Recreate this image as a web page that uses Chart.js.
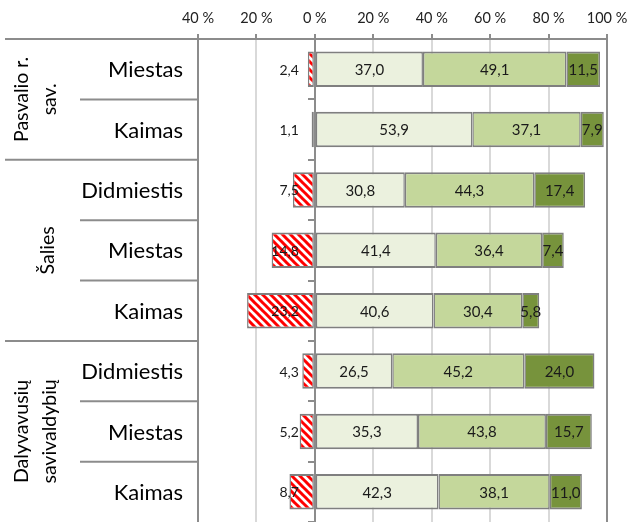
<!DOCTYPE html>
<html>
<head>
<meta charset="utf-8">
<script src="https://cdn.jsdelivr.net/npm/chart.js@4"></script>
<style>
	html, body { margin: 0; padding: 0; background: #fff; }
	#wrap { width: 628px; height: 522px; }
</style>
</head>
<body>
<div id="wrap"><canvas id="chart"></canvas></div>
<script>
const groups = [["Pasvalio r.", "sav."], ["Šalies"], ["Dalyvavusių", "savivaldybių"]];
const groupSizes = [2, 3, 3];
const categories = ["Miestas", "Kaimas", "Didmiestis", "Miestas", "Kaimas", "Didmiestis", "Miestas", "Kaimas"];
const negative = [2.4, 1.1, 7.5, 14.8, 23.2, 4.3, 5.2, 8.7];
const part1 = [37.0, 53.9, 30.8, 41.4, 40.6, 26.5, 35.3, 42.3];
const part2 = [49.1, 37.1, 44.3, 36.4, 30.4, 45.2, 43.8, 38.1];
const part3 = [11.5, 7.9, 17.4, 7.4, 5.8, 24.0, 15.7, 11.0];
const xTicks = [-40, -20, 0, 20, 40, 60, 80, 100];

const FONT = "Lato, Carlito, 'Liberation Sans', sans-serif";
const LINE = "#8c8c8c";

const ctx = document.getElementById("chart").getContext("2d");

function hatch() {
	const c = document.createElement("canvas");
	c.width = 8;
	c.height = 8;
	const g = c.getContext("2d");
	g.fillStyle = "#fff";
	g.fillRect(0, 0, 8, 8);
	g.strokeStyle = "#ff0000";
	g.lineWidth = 3;
	g.beginPath();
	for (const o of [-8, 0, 8]) {
		g.moveTo(o - 1, -1);
		g.lineTo(o + 9, 9);
	}
	g.stroke();
	return ctx.createPattern(c, "repeat");
}

const fmt = v => Math.abs(v).toFixed(1).replace(".", ",");

// value labels on the segments
const segmentLabels = {
	id: "segmentLabels",
	afterDatasetsDraw(chart) {
		const c = chart.ctx;
		const zero = chart.scales.x.getPixelForValue(0);
		c.save();
		c.fillStyle = "#1a1a1a";
		c.textBaseline = "middle";
		chart.data.datasets.forEach((ds, di) => {
			chart.getDatasetMeta(di).data.forEach((bar, i) => {
				const v = ds.data[i];
				if (v < 0) {
					c.font = "14px " + FONT;
					c.textAlign = "right";
					c.fillText(fmt(v), zero - 16, bar.y + 1);
				} else {
					c.font = "15px " + FONT;
					c.textAlign = "center";
					c.fillText(fmt(v), (bar.x + bar.base) / 2, bar.y + 1);
				}
			});
		});
		c.restore();
	}
};

// the two-level category table on the left
const categoryTable = {
	id: "categoryTable",
	afterDraw(chart) {
		const c = chart.ctx;
		const area = chart.chartArea;
		const rowH = (area.bottom - area.top) / categories.length;
		c.save();
		c.strokeStyle = LINE;
		c.lineWidth = 2;
		c.beginPath();
		c.moveTo(5, area.top);
		c.lineTo(area.left, area.top);
		c.stroke();

		let row = 0;
		groups.forEach((lines, gi) => {
			const start = row;
			const end = row + groupSizes[gi];
			for (let r = start + 1; r < end; r++) {
				const y = area.top + r * rowH;
				c.beginPath();
				c.moveTo(80, y);
				c.lineTo(area.left, y);
				c.stroke();
			}
			if (end < categories.length) {
				const y = area.top + end * rowH;
				c.beginPath();
				c.moveTo(5, y);
				c.lineTo(area.left, y);
				c.stroke();
			}
			const cy = area.top + (start + end) / 2 * rowH;
			c.save();
			c.fillStyle = "#000";
			c.font = "19.5px " + FONT;
			c.textAlign = "center";
			c.textBaseline = "middle";
			c.translate(0, cy);
			c.rotate(-Math.PI / 2);
			const xs = lines.length === 1 ? [48] : [22, 50];
			lines.forEach((t, li) => c.fillText(t, 0, xs[li]));
			c.restore();
			row = end;
		});

		c.fillStyle = "#000";
		c.font = "22px " + FONT;
		c.textAlign = "right";
		c.textBaseline = "middle";
		categories.forEach((t, i) => {
			c.fillText(t, 183, chart.scales.y.getPixelForValue(i) + 1);
		});
		c.restore();
	}
};

const barStyle = {
	borderColor: "#7f7f7f",
	borderWidth: { top: 2, bottom: 2, left: 1.5, right: 1.5 },
	borderSkipped: false,
	categoryPercentage: 1,
	barPercentage: 0.59
};

new Chart(ctx, {
	type: "bar",
	data: {
		labels: categories,
		datasets: [
			{ label: "Neigiamai", data: negative.map(v => -v), backgroundColor: hatch(), ...barStyle },
			{ label: "1", data: part1, backgroundColor: "#ebf1de", ...barStyle },
			{ label: "2", data: part2, backgroundColor: "#c4d79b", ...barStyle },
			{ label: "3", data: part3, backgroundColor: "#77933c", ...barStyle }
		]
	},
	options: {
		indexAxis: "y",
		responsive: true,
		maintainAspectRatio: false,
		animation: false,
		layout: { padding: { left: 198, right: 21, top: 0, bottom: 0 } },
		plugins: { legend: { display: false }, tooltip: { enabled: false } },
		scales: {
			x: {
				type: "linear",
				position: "top",
				stacked: true,
				min: -40,
				max: 100,
				afterBuildTicks: axis => { axis.ticks = xTicks.map(v => ({ value: v })); },
				afterFit: axis => {
					axis.height = 39;
					axis.paddingLeft = 0;
					axis.paddingRight = 0;
				},
				ticks: {
					callback: v => Math.abs(v) + " %",
					color: "#222",
					font: { size: 14.5, family: FONT },
					padding: 7,
					maxRotation: 0
				},
				grid: {
					color: c => (c.tick && (c.tick.value === -40 || c.tick.value === 100)) ? LINE : "#d9d9d9",
					lineWidth: 2,
					tickColor: LINE,
					tickLength: 5
				},
				border: { color: LINE, width: 2 }
			},
			y: {
				type: "category",
				stacked: true,
				position: { x: 0 },
				ticks: { display: false },
				grid: {
					drawOnChartArea: false,
					drawTicks: true,
					tickLength: 6,
					color: LINE,
					lineWidth: 2,
					offset: true
				},
				border: { color: LINE, width: 2 }
			}
		}
	},
	plugins: [segmentLabels, categoryTable]
});
</script>
</body>
</html>
